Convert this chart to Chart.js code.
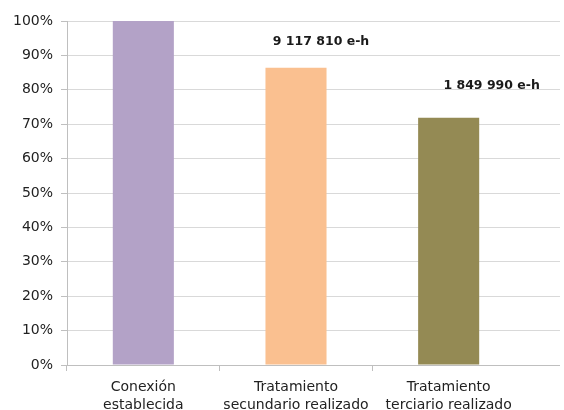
<!DOCTYPE html>
<html>
<head>
<meta charset="utf-8">
<script src="https://cdn.jsdelivr.net/npm/chart.js@4"></script>
<style>
  html, body { margin: 0; padding: 0; background: #fff; }
  #wrap { width: 564px; height: 410px; position: relative; }
</style>
</head>
<body>
<div id="wrap"><canvas id="chart"></canvas></div>
<script>
// data
const categories = [['Conexión', 'establecida'], ['Tratamiento', 'secundario realizado'], ['Tratamiento', 'terciario realizado']];
const shares = [100, 86.4, 71.9];
const barColors = ['#B3A2C7', '#FAC090', '#948A54'];
const barNotes = ['', '9 117 810 e-h', '1 849 990 e-h'];
const yTicks = [0, 10, 20, 30, 40, 50, 60, 70, 80, 90, 100];

const FONT = "'DejaVu Sans', Verdana, sans-serif";
const GRID = '#D9D9D9';
const AXIS = '#BFBFBF';

// Excel-style gridlines run a bit past the last category
const gridExtend = {
  id: 'gridExtend',
  beforeDatasetsDraw(chart, args, opts) {
    const { ctx, chartArea, scales } = chart;
    ctx.save();
    ctx.lineWidth = 1;
    yTicks.forEach(v => {
      const y = Math.round(scales.y.getPixelForValue(v) - 0.5) + 0.5;
      ctx.strokeStyle = v === 0 ? AXIS : GRID;
      ctx.beginPath();
      ctx.moveTo(chartArea.right, y);
      ctx.lineTo(opts.toX, y);
      ctx.stroke();
    });
    ctx.restore();
  }
};

// bold value notes above bars 2 and 3
const notes = {
  id: 'notes',
  afterDatasetsDraw(chart, args, opts) {
    const { ctx } = chart;
    const bars = chart.getDatasetMeta(0).data;
    ctx.save();
    ctx.font = `bold 12.5px ${FONT}`;
    ctx.fillStyle = '#1a1a1a';
    ctx.textAlign = 'center';
    ctx.textBaseline = 'middle';
    barNotes.forEach((t, i) => {
      if (!t) return;
      const off = opts.offsets[i];
      ctx.fillText(t, bars[i].x + off[0], bars[i].y - off[1]);
    });
    ctx.restore();
  }
};

new Chart(document.getElementById('chart'), {
  type: 'bar',
  data: {
    labels: categories,
    datasets: [{
      data: shares,
      backgroundColor: barColors,
      borderWidth: 0,
      categoryPercentage: 1,
      barPercentage: 0.4
    }]
  },
  options: {
    responsive: true,
    maintainAspectRatio: false,
    animation: false,
    devicePixelRatio: 1,
    layout: { padding: { top: 21, right: 39, left: 0, bottom: 0 } },
    plugins: {
      legend: { display: false },
      tooltip: { enabled: false },
      gridExtend: { toX: 560 },
      notes: { offsets: [[0, 0], [25, 26], [43, 32]] }
    },
    scales: {
      y: {
        min: 0,
        max: 100,
        afterFit: s => { s.width = 67; },
        afterBuildTicks: s => { s.ticks = yTicks.map(v => ({ value: v })); },
        ticks: {
          callback: v => v + '%',
          color: '#222',
          font: { family: FONT, size: 14 },
          padding: 8
        },
        grid: { color: GRID, tickColor: AXIS, tickLength: 6 },
        border: { color: AXIS }
      },
      x: {
        offset: true,
        afterFit: s => { s.height = 45; },
        ticks: {
          color: '#222',
          font: { family: FONT, size: 14, lineHeight: 1.3 },
          padding: 7,
          maxRotation: 0
        },
        grid: {
          offset: true,
          drawOnChartArea: false,
          // the closing boundary line gets the scale context, not a tick one
          tickColor: c => (c.type === 'tick' ? AXIS : 'rgba(0,0,0,0)'),
          tickLength: 6
        },
        border: { color: AXIS }
      }
    }
  },
  plugins: [gridExtend, notes]
});
</script>
</body>
</html>
